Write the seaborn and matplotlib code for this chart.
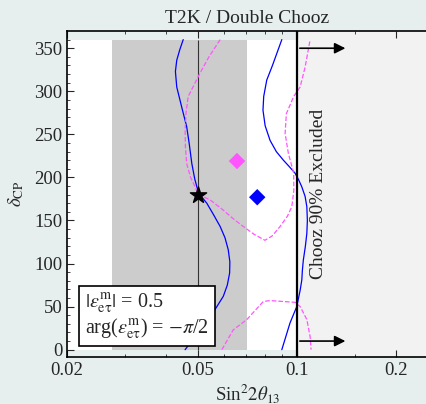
import numpy as np
import pandas as pd
import seaborn as sns
import matplotlib.pyplot as plt
from matplotlib.ticker import FixedLocator, FixedFormatter, NullFormatter

# valeurs
blue_left_dcp = [360, 348, 336, 323, 305, 282, 259, 240, 216, 198, 182, 170, 157, 143, 130, 116, 102,
                 89, 75, 62, 45, 20, 0]
blue_left_s2t = [0.0451, 0.0440, 0.0431, 0.0427, 0.0431, 0.0446, 0.0462, 0.0470, 0.0479, 0.0489,
                 0.0502, 0.0532, 0.0557, 0.0584, 0.0604, 0.0618, 0.0625, 0.0624, 0.0614, 0.0597,
                 0.0560, 0.0500, 0.0457]
blue_right_dcp = [360, 345, 330, 313, 294, 278, 260, 243, 230, 220, 212, 205, 197, 189, 178, 166,
                  150, 135, 120, 104, 92, 81, 69, 50, 31, 0]
blue_right_s2t = [0.0899, 0.0870, 0.0842, 0.0809, 0.0792, 0.0788, 0.0800, 0.0828, 0.0865, 0.0909,
                  0.0950, 0.0986, 0.1012, 0.1034, 0.1058, 0.1071, 0.1075, 0.1071, 0.1060, 0.1045,
                  0.1038, 0.1034, 0.1022, 0.0998, 0.0952, 0.0899]
mag_upper_dcp = [360, 340, 321, 294, 275, 255, 235, 216, 200, 189, 180, 174, 162, 152, 143, 134, 127,
                 132, 143, 155, 166, 185, 205, 228, 251, 274, 294, 305, 328, 345, 360]
mag_upper_s2t = [0.0584, 0.0540, 0.0507, 0.0467, 0.0460, 0.0457, 0.0458, 0.0462, 0.0475, 0.0490,
                 0.0502, 0.0544, 0.0597, 0.0640, 0.0687, 0.0740, 0.0799, 0.0840, 0.0888, 0.0935,
                 0.0964, 0.0978, 0.0977, 0.0941, 0.0920, 0.0928, 0.0977, 0.1022, 0.1058, 0.1078, 0.1096]
mag_lower_dcp = [0, 23, 35, 56, 57, 55, 50, 35, 15, 0]
mag_lower_s2t = [0.0591, 0.0640, 0.0704, 0.0790, 0.0828, 0.0986, 0.1022, 0.1071, 0.1096, 0.1103]

true_s2t, true_dcp = 0.05, 180
fit_s2t = [0.0657, 0.0757]
fit_dcp = [219, 177]
fit_kind = ["magenta", "blue"]
band_s2t = (0.0274, 0.0705)
chooz_limit = 0.1
arrow_dcp = [350, 10]
arrow_end = 0.143

x_ticks = [0.02, 0.05, 0.1, 0.2]
x_ticklabels = ["0.02", "0.05", "0.1", "0.2"]
y_ticks = [0, 50, 100, 150, 200, 250, 300, 350]

bg = "#e6eeee"
sns.set_style("ticks")
plt.rcParams["font.family"] = ["Liberation Serif", "DejaVu Serif"]
plt.rcParams["mathtext.fontset"] = "stix"
plt.rcParams["xtick.direction"] = "in"
plt.rcParams["ytick.direction"] = "in"

fig = plt.figure(figsize=(4.27, 4.04), dpi=100, facecolor=bg)
ax = fig.add_axes([67 / 427, 47 / 404, 361 / 427, 326 / 404])
ax.set_facecolor(bg)
ax.set_xscale("log")
ax.set_xlim(0.02, 0.25)
ax.set_ylim(-8.5, 370)

# fonds
ax.fill_between([0.02, chooz_limit], 0, 360, color="white", lw=0, zorder=0)
ax.fill_between(list(band_s2t), 0, 360, color="#cccccc", lw=0, zorder=0.5)
ax.axvspan(chooz_limit, 0.25, color="#f2f2f2", lw=0, zorder=0)

ax.vlines(true_s2t, 0, 360, color="#333333", lw=0.8, zorder=1)

curves = [
    (blue_left_s2t, blue_left_dcp, "blue", "-"),
    (blue_right_s2t, blue_right_dcp, "blue", "-"),
    (mag_upper_s2t, mag_upper_dcp, "#ff55ff", "--"),
    (mag_lower_s2t, mag_lower_dcp, "#ff55ff", "--"),
]
for xs, ys, col, ls in curves:
    sns.lineplot(x=xs, y=ys, sort=False, estimator=None, color=col, linestyle=ls, lw=0.9, ax=ax, zorder=2)

fits = pd.DataFrame({"s2t": fit_s2t, "dcp": fit_dcp, "kind": fit_kind})
sns.scatterplot(data=fits, x="s2t", y="dcp", hue="kind", palette={"magenta": "#ff55ff", "blue": "blue"},
                marker="D", s=70, edgecolor="none", legend=False, ax=ax, zorder=3)
ax.scatter([true_s2t], [true_dcp], marker="*", s=150, color="black", zorder=4)

ax.axvline(chooz_limit, color="black", lw=1.6, zorder=5)
for d in arrow_dcp:
    ax.annotate("", xy=(arrow_end, d), xytext=(chooz_limit, d),
                arrowprops=dict(arrowstyle="-|>", color="black", lw=1.2, mutation_scale=16), zorder=5)

ax.text(0.1158, 181, "Chooz 90% Excluded", rotation=90, ha="center", va="center", fontsize=14)
ax.text(0.05, 0.05,
        "$|\\epsilon^{\\rm m}_{\\rm e\\tau}|$ = 0.5\narg($\\epsilon^{\\rm m}_{\\rm e\\tau}$) = $-\\pi$/2",
        transform=ax.transAxes, fontsize=14.5, ha="left", va="bottom", zorder=6, linespacing=1.05,
        bbox=dict(boxstyle="square,pad=0.28", fc="white", ec="black", lw=1.2))

ax.xaxis.set_major_locator(FixedLocator(x_ticks))
ax.xaxis.set_major_formatter(FixedFormatter(x_ticklabels))
ax.xaxis.set_minor_locator(FixedLocator([0.03, 0.04, 0.06, 0.07, 0.08, 0.09, 0.15]))
ax.xaxis.set_minor_formatter(NullFormatter())
ax.set_yticks(y_ticks)
ax.yaxis.set_minor_locator(FixedLocator(np.arange(0, 361, 10)))
ax.tick_params(which="major", length=5, width=0.8, labelsize=13.5, top=True)
ax.tick_params(which="minor", length=2.5, width=0.6, top=True)
for s in ["left", "bottom", "top"]:
    ax.spines[s].set_linewidth(1.2)
    ax.spines[s].set_color("black")
ax.spines["right"].set_visible(False)

ax.set_xlabel("Sin$^2 2\\theta_{13}$", fontsize=13.5, labelpad=2)
ax.set_ylabel("$\\delta_{\\rm CP}$", fontsize=13.5, labelpad=6)
ax.set_title("T2K / Double Chooz", fontsize=14, pad=6)

fig.savefig("out.png", dpi=100, facecolor=bg)
